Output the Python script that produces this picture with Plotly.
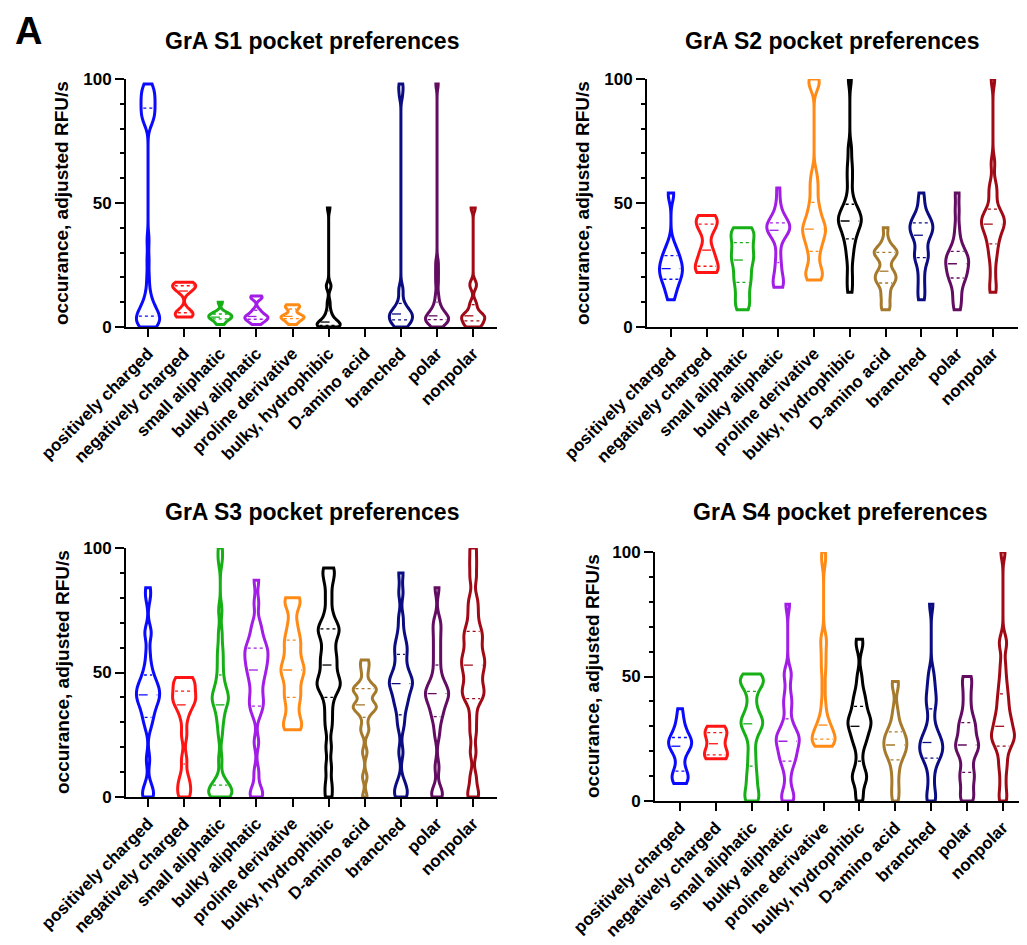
import numpy as np
import plotly.graph_objects as go

CATEGORIES = ["positively charged", "negatively charged", "small aliphatic",
              "bulky aliphatic", "proline derivative", "bulky, hydrophibic",
              "D-amino acid", "branched", "polar", "nonpolar"]
COLORS = ["#0a0aff", "#ff1414", "#16b016", "#a21ee6", "#ff8a16", "#000000",
          "#a57a2c", "#0c0c82", "#620c62", "#a00a16"]
TITLES = ["GrA S1 pocket preferences", "GrA S2 pocket preferences",
          "GrA S3 pocket preferences", "GrA S4 pocket preferences"]
Y_TITLE = "occurance, adjusted RFU/s"
Y_TICKS = [0, 50, 100]

# estimated observations per category (adjusted RFU/s)
S1 = [
    [0, 0, 0.5, 1, 1.5, 2, 2.5, 3, 3.5, 4, 4.5, 5, 5.5, 6, 7, 8, 9, 10, 12, 15, 20, 27, 35,
     82, 83, 84, 85, 86, 87, 88, 89, 90, 91, 92, 93, 94, 95, 96, 97, 98],
    [4, 4.5, 5, 6, 7, 14, 15, 16, 16.5, 17, 17.5, 18],
    [1, 2, 3, 3.5, 4, 4, 4.5, 5, 5.5, 6, 10],
    [1, 2, 2.5, 3, 3.5, 4, 4, 4.5, 5, 6, 7, 11.5, 12, 12.5],
    [1, 2, 3, 3.5, 4, 4, 4.5, 5, 7, 8, 8.5, 9],
    [0, 0, 0, 0.5, 0.5, 1, 1, 1.5, 2, 2, 3, 4, 5, 7, 10, 16, 17, 48],
    [],
    [0, 0.5, 1, 1.5, 2, 2.5, 3, 3.5, 4, 4.5, 5, 5, 5.5, 6, 6.5, 7, 8, 9, 11, 14, 16, 93, 96, 98],
    [0, 1, 1.5, 2, 2.5, 3, 3, 3.5, 4, 4, 4.5, 5, 6, 7, 8, 10, 13, 18, 22, 26, 98],
    [0, 0.5, 1, 2, 3, 3.5, 4, 4.5, 5, 6, 8, 10, 16, 18, 48],
]
S2 = [
    [11, 13, 15, 17, 18, 19, 20, 21, 22, 23, 23, 24, 25, 26, 27, 28, 29, 30, 32, 34, 53, 54],
    [22, 22.5, 23, 24, 26, 28, 30, 32, 38, 40, 42, 43, 44, 45],
    [7, 9, 12, 15, 18, 20, 22, 25, 27, 28, 30, 32, 34, 36, 38, 39, 40],
    [16, 17, 18, 20, 23, 26, 30, 35, 37, 38, 39, 39.5, 40, 40.5, 41, 42, 43, 44, 46, 50, 56],
    [19, 20, 21, 22, 24, 27, 30, 32, 34, 35, 37, 38, 39, 40, 41, 42, 44, 46, 48, 51, 55, 58, 62, 97, 99, 100],
    [14, 18, 22, 27, 30, 33, 35, 37, 38, 40, 41, 42, 42.5, 43, 44, 45, 46, 47, 48, 50, 53, 58, 62, 66, 72, 100],
    [7, 9, 12, 14, 17, 18, 19, 20, 21, 22, 23, 26, 28, 29, 30, 30.5, 31, 32, 35, 40],
    [11, 14, 18, 22, 26, 28, 29, 30, 33, 36, 37, 38, 39, 40, 41, 42, 43, 44, 46, 50, 54],
    [7, 10, 13, 16, 19, 20, 21, 22, 24, 25, 26, 27, 28, 29, 30, 32, 35, 40, 47, 54],
    [14, 17, 22, 27, 30, 33, 35, 37, 39, 40, 41, 42, 43, 44, 45, 46, 48, 52, 55, 58, 66, 100],
]
S3 = [
    [0, 0.5, 2, 5, 15, 28, 31, 33, 35, 37, 38, 39, 40, 41, 42, 43, 44, 45, 46, 48, 50, 53, 58, 65, 67, 80, 84],
    [0, 2, 5, 8, 15, 25, 32, 36, 38, 39, 40, 42, 44, 46, 47, 48],
    [0, 0.5, 1, 1.5, 2, 3, 4, 5, 7, 15, 25, 30, 33, 36, 38, 39, 40, 41, 43, 45, 48, 52, 56, 60, 66, 75, 95, 100],
    [0, 1, 3, 10, 22, 33, 36, 38, 40, 43, 46, 48, 50, 52, 53, 55, 56, 58, 59, 60, 62, 64, 67, 70, 78, 87],
    [27, 28, 30, 33, 37, 40, 42, 45, 48, 50, 51, 53, 55, 58, 61, 63, 66, 70, 76, 79, 80],
    [0, 5, 12, 20, 28, 33, 38, 42, 44, 45, 46, 48, 50, 53, 55, 57, 60, 63, 66, 67, 68, 70, 74, 80, 86, 90, 92],
    [0, 8, 18, 26, 28, 32, 35, 35.5, 36, 36.5, 37, 39, 42, 42.5, 43, 43.5, 44, 46, 50, 53, 55],
    [0, 1, 3, 6, 18, 28, 32, 36, 38, 40, 42, 44, 45, 46, 47, 48, 50, 52, 55, 58, 60, 62, 66, 72, 82, 90],
    [0, 1, 3, 12, 25, 30, 33, 35, 37, 39, 40, 41, 42, 43, 44, 46, 48, 52, 56, 60, 64, 68, 71, 84],
    [0, 2, 8, 18, 26, 32, 38, 40, 42, 43, 45, 48, 50, 52, 54, 55, 57, 59, 62, 64, 66, 68, 72, 76, 80, 88, 94, 100],
]
S4 = [
    [7, 8, 9, 10, 11, 13, 17, 20, 21, 22, 23, 23.5, 24, 25, 26, 28, 30, 33, 37],
    [17, 17.5, 18, 19, 20, 23, 26, 27, 28, 29, 30],
    [0, 1, 3, 6, 9, 12, 16, 20, 25, 28, 30, 31, 32, 33, 35, 38, 42, 46, 47, 48, 49, 50, 51],
    [0, 1, 2, 5, 10, 14, 16, 17, 19, 20, 22, 23, 24, 25, 26, 27, 28, 30, 33, 38, 40, 44, 50, 52, 79],
    [22, 22.5, 23, 23.5, 24, 24.5, 25, 26, 27, 28, 29, 30, 31, 33, 36, 40, 46, 52, 56, 60, 64, 66, 96, 100],
    [0, 3, 8, 9, 10, 12, 16, 21, 24, 25, 27, 29, 30, 31, 32, 33, 34, 36, 38, 40, 42, 45, 50, 62, 65],
    [0, 3, 6, 10, 13, 16, 18, 19, 20, 21, 22, 23, 24, 25, 26, 27, 28, 30, 33, 37, 46, 48],
    [0, 1, 4, 8, 12, 15, 17, 18, 19, 20, 21, 22, 23, 24, 25, 26, 28, 30, 34, 38, 40, 42, 45, 48, 52, 79],
    [0, 1, 3, 6, 9, 10, 12, 15, 18, 20, 21, 22, 23, 24, 26, 28, 30, 31, 33, 36, 40, 44, 48, 50],
    [0, 3, 8, 13, 16, 20, 22, 24, 25, 26, 27, 28, 30, 32, 33, 35, 38, 40, 43, 46, 50, 55, 62, 65, 100],
]
PANELS = [S1, S2, S3, S4]
BANDWIDTHS = [[3, 1.5, 1, 1, 1, 1.5, 1, 2, 2, 1.5],
              [3, 3, 3, 3, 3, 3, 2, 3, 3, 3],
              [3, 3, 3, 3, 3, 3, 2, 3, 3, 3],
              [3, 3, 3, 3, 3, 3, 3, 3, 3, 3]]

# layout geometry: target pixel boxes in the screenshot (page has an 8px body margin)
W, H, OFF = 1027, 945, 8
BOX_X = [(126, 497), (647, 1018), (126, 497), (655, 1027)]
BOX_Y = [(79, 327), (79, 327), (548, 797), (552, 801)]
X_RANGES = [[-0.61, 9.66], [-0.67, 9.70], [-0.61, 9.66], [-0.70, 9.67]]
VW = 0.64
FONT = "Liberation Sans, Arial, sans-serif"


def px(x):
    return (x - OFF) / W


def py(y):
    return 1 - (y - OFF) / H


fig = go.Figure()


def kde(data, bw, ys):
    d = np.asarray(data, dtype=float)
    return np.exp(-0.5 * ((np.asarray(ys)[:, None] - d[None, :]) / bw) ** 2).sum(axis=1)


for p, panel in enumerate(PANELS):
    xa = "x" if p == 0 else f"x{p + 1}"
    ya = "y" if p == 0 else f"y{p + 1}"
    for i, vals in enumerate(panel):
        if len(vals) == 0:
            continue
        bw = BANDWIDTHS[p][i]
        fig.add_trace(go.Violin(
            x=[i] * len(vals), y=vals, xaxis=xa, yaxis=ya,
            width=VW, spanmode="hard", bandwidth=bw, scalemode="width",
            points=False, box_visible=False, meanline_visible=False,
            line=dict(color=COLORS[i], width=3), fillcolor="rgba(255,255,255,0)",
            showlegend=False, hoverinfo="skip"))
        grid = np.linspace(min(vals), max(vals), 400)
        dmax = kde(vals, bw, grid).max()
        q1, q2, q3 = np.percentile(vals, [25, 50, 75])
        for q, dash in [(q1, "dot"), (q2, "dash"), (q3, "dot")]:
            hw = VW / 2 * kde(vals, bw, [q])[0] / dmax - 0.06
            if hw <= 0:
                continue
            fig.add_trace(go.Scatter(
                x=[i - hw, i + hw], y=[q, q], xaxis=xa, yaxis=ya, mode="lines",
                line=dict(color=COLORS[i], width=1.3, dash=dash),
                showlegend=False, hoverinfo="skip"))

layout = dict(
    template="none",
    width=W, height=H, margin=dict(l=0, r=0, t=0, b=0, autoexpand=False),
    paper_bgcolor="white", plot_bgcolor="white",
    font=dict(family=FONT, color="black"),
)
for p in range(4):
    sx = "xaxis" if p == 0 else f"xaxis{p + 1}"
    sy = "yaxis" if p == 0 else f"yaxis{p + 1}"
    ya = "y" if p == 0 else f"y{p + 1}"
    xa = "x" if p == 0 else f"x{p + 1}"
    layout[sx] = dict(
        domain=[px(BOX_X[p][0]), min(1.0, px(BOX_X[p][1]))], anchor=ya,
        range=X_RANGES[p], automargin=False,
        tickmode="array", tickvals=list(range(10)), ticktext=CATEGORIES,
        tickangle=-45, ticks="outside", ticklen=8, tickwidth=2, tickcolor="black",
        showline=True, linewidth=2, linecolor="black", showgrid=False, zeroline=False,
        tickfont=dict(family=FONT, size=17, weight="bold", color="black"),
    )
    layout[sy] = dict(
        domain=[py(BOX_Y[p][1]), py(BOX_Y[p][0])], anchor=xa, range=[0, 100],
        automargin=False,
        tickmode="array", tickvals=Y_TICKS, ticks="outside", ticklen=9,
        tickwidth=2, tickcolor="black",
        minor=dict(tickmode="array", tickvals=list(range(0, 101, 10)),
                   ticks="outside", ticklen=4, tickwidth=2, tickcolor="black", showgrid=False),
        showline=True, linewidth=2, linecolor="black", showgrid=False, zeroline=False,
        tickfont=dict(family=FONT, size=17, weight="bold", color="black"),
    )
fig.update_layout(**layout)

TITLE_POS = [(312, 41), (832, 41), (312, 512), (840, 512)]
YTITLE_POS = [(62, 203), (583, 203), (62, 672), (592, 676)]
for p in range(4):
    tx, ty = TITLE_POS[p]
    fig.add_annotation(x=px(tx), y=py(ty), xref="paper", yref="paper",
                       text=TITLES[p], showarrow=False, xanchor="center", yanchor="middle",
                       font=dict(family=FONT, size=23, weight="bold", color="black"))
    yx, yy = YTITLE_POS[p]
    fig.add_annotation(x=px(yx), y=py(yy), xref="paper", yref="paper",
                       text=Y_TITLE, showarrow=False, textangle=-90,
                       xanchor="center", yanchor="middle",
                       font=dict(family=FONT, size=19, weight="bold", color="black"))
fig.add_annotation(x=px(28), y=py(8), xref="paper", yref="paper",
                   text="A", showarrow=False, xanchor="center", yanchor="top",
                   font=dict(family=FONT, size=38, weight="bold", color="black"))

fig.write_html("out.html")
